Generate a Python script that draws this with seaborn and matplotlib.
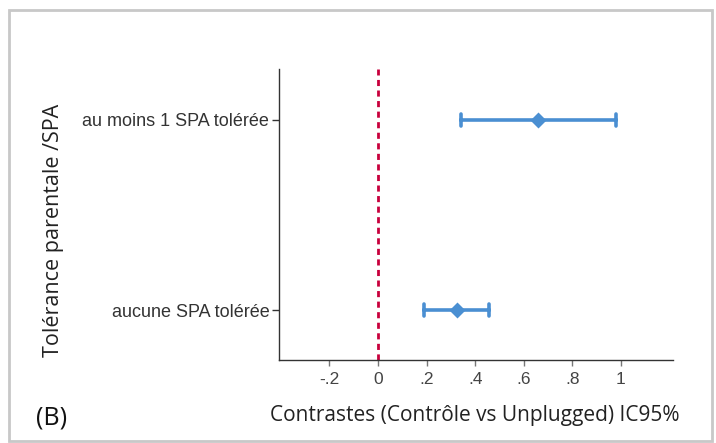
import numpy as np
import pandas as pd
import matplotlib
matplotlib.use("Agg")
import matplotlib.pyplot as plt
import seaborn as sns
from matplotlib.patches import Rectangle

categories = ["au moins 1 SPA tolérée", "aucune SPA tolérée"]
estimates = [0.66, 0.325]
ci_low = [0.34, 0.19]
ci_high = [0.98, 0.455]
xticks = [-0.2, 0, 0.2, 0.4, 0.6, 0.8, 1]
xtick_labels = ["-.2", "0", ".2", ".4", ".6", ".8", "1"]

rows = []
for c, e, lo, hi in zip(categories, estimates, ci_low, ci_high):
    for v in (lo, e, hi):
        rows.append({"cat": c, "val": v})
df = pd.DataFrame(rows)

sns.set_style("white")
plt.rcParams['font.family'] = ['Liberation Sans', 'DejaVu Sans']

fig = plt.figure(figsize=(7.16, 4.43), dpi=100)
ax = fig.add_axes([279 / 716, 1 - 360 / 443, 394 / 716, 291 / 443])

blue = "#4a8fd2"
sns.pointplot(data=df, x="val", y="cat", order=categories,
              estimator=np.median, errorbar=lambda x: (x.min(), x.max()),
              color=blue, markers="D", linestyles="none", capsize=0.06,
              err_kws={"linewidth": 2.6}, markersize=6, ax=ax)

ax.axvline(0, color="#c8003c", linestyle=(0, (2.2, 1.6)), linewidth=2.0, zorder=0)

ax.set_xlim(-0.407, 1.214)
ax.set_ylim(1.263, -0.268)
ax.set_xticks(xticks)
ax.set_xticklabels(xtick_labels)
ax.set_xlabel("")
ax.set_ylabel("")

for s in ["top", "right"]:
    ax.spines[s].set_visible(False)
for s in ["left", "bottom"]:
    ax.spines[s].set_color("#333333")
    ax.spines[s].set_linewidth(1.0)

ax.tick_params(axis="x", direction="out", length=4, width=1, color="#777777",
               labelsize=12.5, labelcolor="#444444", pad=5)
ax.tick_params(axis="y", direction="out", length=5, width=1, color="#333333",
               labelsize=13, labelcolor="#333333", pad=2)
ax.tick_params(bottom=True, left=True)

fig.text(53 / 716, 1 - 230 / 443, "Tolérance parentale /SPA", rotation=90,
         ha="center", va="center", fontsize=15.5, color="#222222",
         family=["Open Sans", "DejaVu Sans"])
fig.text(475 / 716, 1 - 415 / 443, "Contrastes (Contrôle vs Unplugged) IC95%",
         ha="center", va="center", fontsize=15, color="#222222",
         family=["Open Sans", "DejaVu Sans"])
fig.text(52 / 716, 1 - 418 / 443, "(B)", ha="center", va="center",
         fontsize=18, color="#111111", family=["Open Sans", "DejaVu Sans"])

fig.patches.append(Rectangle((9 / 716, 2 / 443), 703 / 716, 431 / 443,
                             transform=fig.transFigure, fill=False,
                             edgecolor="#c8c8c8", linewidth=2))

fig.savefig("out.png", dpi=100)
